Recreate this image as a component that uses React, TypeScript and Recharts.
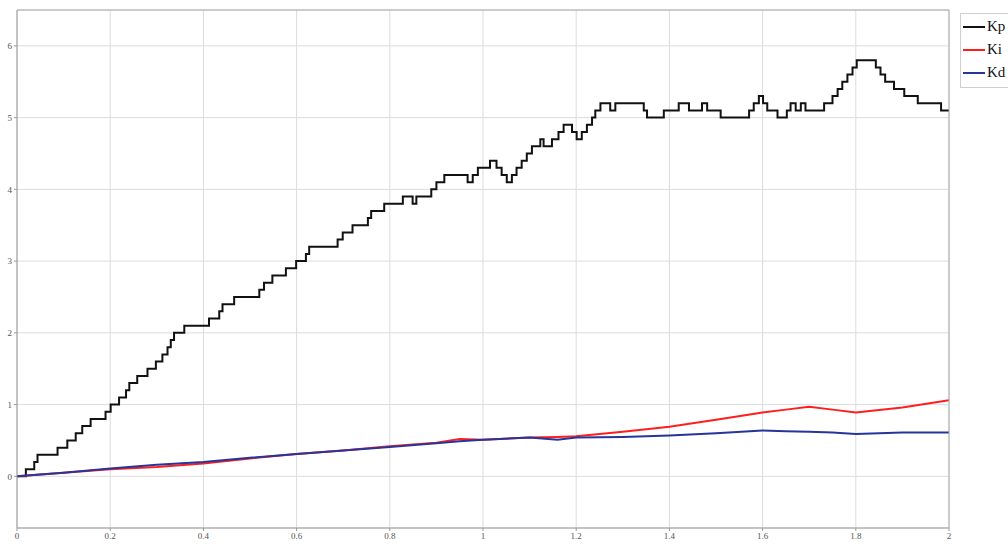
import {
  CartesianGrid,
  Legend,
  Line,
  LineChart,
  XAxis,
  YAxis,
} from "recharts";

// Kp is a held (stepped) signal: switch times and the value held from each
const kpTimes = [
  0, 0.019, 0.037, 0.044, 0.087, 0.108, 0.126, 0.14, 0.158, 0.19, 0.201, 0.219,
  0.234, 0.241, 0.258, 0.28, 0.298, 0.312, 0.323, 0.33, 0.337, 0.359, 0.412,
  0.434, 0.441, 0.466, 0.52, 0.53, 0.548, 0.577, 0.599, 0.62, 0.627, 0.688,
  0.699, 0.72, 0.753, 0.76, 0.788, 0.828, 0.849, 0.857, 0.889, 0.9, 0.917,
  0.967, 0.978, 0.989, 1.015, 1.029, 1.04, 1.051, 1.062, 1.072, 1.083, 1.094,
  1.105, 1.123, 1.13, 1.148, 1.162, 1.173, 1.191, 1.201, 1.212, 1.223, 1.234,
  1.241, 1.252, 1.273, 1.284, 1.345, 1.352, 1.388, 1.42, 1.442, 1.47, 1.481,
  1.51, 1.571, 1.581, 1.592, 1.601, 1.61, 1.632, 1.652, 1.66, 1.671, 1.682,
  1.692, 1.732, 1.75, 1.761, 1.771, 1.782, 1.793, 1.802, 1.843, 1.853, 1.863,
  1.882, 1.904, 1.933, 1.983, 2.0,
];
const kpValues = [
  0, 0.1, 0.2, 0.3, 0.4, 0.5, 0.6, 0.7, 0.8, 0.9, 1.0, 1.1,
  1.2, 1.3, 1.4, 1.5, 1.6, 1.7, 1.8, 1.9, 2.0, 2.1, 2.2,
  2.3, 2.4, 2.5, 2.6, 2.7, 2.8, 2.9, 3.0, 3.1, 3.2, 3.3,
  3.4, 3.5, 3.6, 3.7, 3.8, 3.9, 3.8, 3.9, 4.0, 4.1, 4.2,
  4.1, 4.2, 4.3, 4.4, 4.3, 4.2, 4.1, 4.2, 4.3, 4.4, 4.5,
  4.6, 4.7, 4.6, 4.7, 4.8, 4.9, 4.8, 4.7, 4.8, 4.9, 5.0,
  5.1, 5.2, 5.1, 5.2, 5.1, 5.0, 5.1, 5.2, 5.1, 5.2, 5.1,
  5.0, 5.1, 5.2, 5.3, 5.2, 5.1, 5.0, 5.1, 5.2, 5.1, 5.2,
  5.1, 5.2, 5.3, 5.4, 5.5, 5.6, 5.7, 5.8, 5.7, 5.6, 5.5,
  5.4, 5.3, 5.2, 5.1, 5.1,
];

const gainTimes = [
  0, 0.1, 0.2, 0.3, 0.4, 0.5, 0.6, 0.7, 0.8, 0.9, 0.95, 1.0, 1.1, 1.16, 1.2,
  1.3, 1.4, 1.5, 1.6, 1.65, 1.7, 1.75, 1.8, 1.9, 2.0,
];
const kiValues = [
  0, 0.05, 0.1, 0.13, 0.18, 0.25, 0.31, 0.36, 0.42, 0.47, 0.52, 0.51, 0.54,
  0.55, 0.56, 0.62, 0.69, 0.79, 0.89, 0.93, 0.97, 0.93, 0.89, 0.96, 1.06,
];
const kdValues = [
  0, 0.05, 0.11, 0.16, 0.2, 0.26, 0.31, 0.36, 0.41, 0.46, 0.49, 0.51, 0.54,
  0.51, 0.54, 0.55, 0.57, 0.6, 0.64, 0.63, 0.62, 0.61, 0.59, 0.61, 0.61,
];

const xTicks = [0, 0.2, 0.4, 0.6, 0.8, 1, 1.2, 1.4, 1.6, 1.8, 2];
const yTicks = [0, 1, 2, 3, 4, 5, 6];

const kpData = kpTimes.map((t, i) => ({ t, value: kpValues[i] }));
const kiData = gainTimes.map((t, i) => ({ t, value: kiValues[i] }));
const kdData = gainTimes.map((t, i) => ({ t, value: kdValues[i] }));

const series = [
  { name: "Kp", color: "#111111" },
  { name: "Ki", color: "#ff1e1e" },
  { name: "Kd", color: "#27359a" },
];

const tickStyle = { fontSize: 9, fill: "#555", fontFamily: "Liberation Serif" };

const GainLegend = () => (
  <div
    style={{
      border: "1px solid #cfcfcf",
      background: "#fff",
      padding: "1px 8px 3px 2px",
      fontFamily: "Liberation Serif",
      fontSize: 15,
      lineHeight: "23px",
    }}
  >
    {series.map((s) => (
      <div key={s.name} style={{ display: "flex", alignItems: "center" }}>
        <span
          style={{
            display: "inline-block",
            width: 22,
            height: 2,
            background: s.color,
            marginRight: 2,
          }}
        />
        <span style={{ color: "#111" }}>{s.name}</span>
      </div>
    ))}
  </div>
);

const App = () => {
  return (
    <div style={{ position: "fixed", left: 0, top: 0, background: "#fff" }}>
      <LineChart
        width={1008}
        height={552}
        margin={{ top: 9, right: 58, bottom: 0, left: 0 }}
      >
        <CartesianGrid stroke="#dcdcdc" strokeWidth={1} />
        <XAxis
          xAxisId={0}
          type="number"
          dataKey="t"
          domain={[0, 2]}
          ticks={xTicks}
          height={24}
          tick={tickStyle}
          tickSize={3}
          tickLine={{ stroke: "#999" }}
          axisLine={{ stroke: "#999" }}
          allowDataOverflow
        />
        <XAxis
          xAxisId="top"
          orientation="top"
          type="number"
          domain={[0, 2]}
          ticks={xTicks}
          height={1}
          tick={false}
          axisLine={{ stroke: "#aaa" }}
          tickLine={false}
        />
        <YAxis
          yAxisId={0}
          type="number"
          domain={[-0.72, 6.5]}
          ticks={yTicks}
          width={17}
          tick={tickStyle}
          tickSize={3}
          tickLine={{ stroke: "#999" }}
          axisLine={{ stroke: "#999" }}
          allowDataOverflow
        />
        <YAxis
          yAxisId="right"
          orientation="right"
          type="number"
          domain={[-0.72, 6.5]}
          ticks={yTicks}
          width={1}
          tick={false}
          axisLine={{ stroke: "#aaa" }}
          tickLine={false}
        />
        <Legend
          verticalAlign="middle"
          align="center"
          layout="horizontal"
          wrapperStyle={{ top: 13, left: 960, width: 60 }}
          content={() => <GainLegend />}
        />
        <Line
          data={kpData}
          dataKey="value"
          name="Kp"
          type="stepAfter"
          stroke={series[0].color}
          strokeWidth={2}
          dot={false}
          isAnimationActive={false}
        />
        <Line
          data={kiData}
          dataKey="value"
          name="Ki"
          type="linear"
          stroke={series[1].color}
          strokeWidth={2}
          dot={false}
          isAnimationActive={false}
        />
        <Line
          data={kdData}
          dataKey="value"
          name="Kd"
          type="linear"
          stroke={series[2].color}
          strokeWidth={2}
          dot={false}
          isAnimationActive={false}
        />
      </LineChart>
    </div>
  );
};

export default App;
